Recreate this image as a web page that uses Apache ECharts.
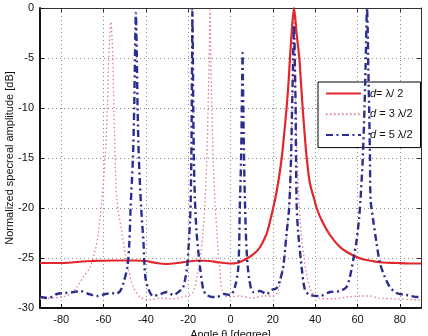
<!DOCTYPE html>
<html>
<head>
<meta charset="utf-8">
<script src="https://cdn.jsdelivr.net/npm/echarts@6/dist/echarts.min.js"></script>
<style>
  html, body { margin: 0; padding: 0; background: #fff; }
  #chart { width: 428px; height: 336px; }
</style>
</head>
<body>
<div id="chart"></div>
<script>
// d = lambda/2
let angleRed = [-90, -80, -75, -70, -65, -55, -45, -40, -35, -30, -25, -20, -15, -10, -5, 0, 3, 6, 9, 12, 14, 16, 17.5, 19.5, 21, 22.5, 24.2, 25.4, 26.5, 27.4, 28.1, 28.9, 30, 31.2, 32.5, 33.3, 34.1, 35, 36, 37.5, 39.8, 40.7, 43, 47, 51.7, 55, 59.6, 63, 67, 72, 78.4, 85, 90];
let ampRed = [-25.5, -25.5, -25.45, -25.35, -25.3, -25.25, -25.25, -25.3, -25.5, -25.6, -25.5, -25.35, -25.25, -25.3, -25.45, -25.55, -25.5, -25.25, -24.9, -24.4, -23.9, -23.1, -22.3, -20.6, -19.2, -17.5, -15, -12.5, -10, -7.5, -5, -2.5, 0, -2.5, -5, -7.5, -10, -12.5, -15, -17.5, -19.3, -20, -21.2, -22.7, -23.9, -24.4, -24.9, -25.15, -25.3, -25.45, -25.5, -25.55, -25.55];

// d = 3 lambda/2
let anglePink = [-90, -85, -80, -75.7, -72.5, -69.5, -66.3, -63.9, -62.4, -60.8, -59.2, -58.2, -57.5, -56.5, -55.6, -55.1, -54.5, -53.7, -51.3, -49.8, -48.2, -45.9, -42.7, -38, -33, -28, -23, -18, -15.5, -14.3, -13, -12, -11.2, -10.6, -10.1, -9.7, -9.3, -8.8, -8.2, -7.3, -6.4, -5.8, -5, -3.9, -1.5, 4, 10, 16, 20, 22.3, 24.5, 25.5, 26.7, 27.7, 28.5, 29.1, 29.6, 30, 30.4, 30.9, 31.5, 32.3, 33.4, 34.8, 35.8, 38.3, 42, 48, 55, 62, 66, 70, 80, 90];
let ampPink = [-29.1, -29.0, -28.9, -28.6, -27.9, -26.9, -25.9, -24.2, -22.5, -19.2, -15, -10, -5, -1.4, -5, -10, -15, -19.2, -22.5, -24.5, -26.2, -27.9, -28.9, -29.2, -29.0, -29.1, -28.9, -28.5, -26.5, -25, -22.5, -19.2, -15, -10, -5, -0.2, -5, -10, -15, -19.5, -22.5, -24.5, -26.2, -28.3, -28.9, -28.8, -29.0, -28.8, -28.8, -28.4, -26.5, -25, -22.5, -19.2, -15, -10, -5, -0.3, -5, -10, -15, -19.2, -22.5, -25, -26.5, -28.4, -29.0, -29.1, -28.9, -28.8, -28.8, -29.0, -29.1, -29.2];

// d = 5 lambda/2
let angleBlue = [-90, -86, -82, -78, -74, -71, -67, -63, -59, -56, -54.5, -52.1, -50.6, -48.7, -47.8, -47.2, -46.1, -45.5, -45.15, -44.9, -44.7, -44.5, -44.25, -43.9, -43.3, -42.2, -41.1, -40.3, -38.8, -36.5, -33, -30, -27, -24, -22.5, -21.5, -20.5, -19.9, -19.1, -18.8, -18.5, -18.3, -18.15, -18.05, -18, -17.9, -17.75, -17.6, -17.3, -16.8, -16, -14.4, -12.8, -11.2, -8.5, -6.5, -3, 0, 2.1, 3.7, 4.4, 5.0, 5.35, 5.55, 5.7, 5.85, 6.05, 6.4, 6.8, 7.6, 8.9, 10.8, 13.9, 17, 19.4, 21.8, 23.4, 24.9, 26.5, 27.7, 28.6, 29.1, 29.5, 29.8, 30, 30.2, 30.45, 30.75, 30.95, 31.3, 32, 33.6, 35.2, 37.5, 42.2, 47, 51.7, 54.8, 56.4, 58, 59.6, 60.8, 61.4, 62.5, 63.3, 63.8, 64.2, 64.5, 64.8, 65.1, 65.5, 65.9, 66.2, 67.4, 69, 70.6, 72.9, 75.3, 78.4, 83.2, 88.6, 90];
let ampBlue = [-28.9, -29.0, -28.6, -28.5, -28.4, -28.3, -28.6, -28.8, -28.6, -28.5, -28.6, -28.3, -27.5, -25.9, -23.5, -20, -15, -10, -5, -2, -0.5, -2, -5, -10, -15, -20, -23.5, -26.8, -28.1, -28.8, -28.6, -28.4, -28.7, -28.3, -28.0, -27.2, -25.9, -24.2, -21.2, -19.2, -15, -10, -5, -2, -0.2, -2, -5, -10, -15, -19.2, -22.5, -25.9, -28.2, -28.7, -28.9, -28.9, -28.6, -28.7, -27.9, -25.9, -20, -15, -10, -7, -4.5, -7, -10, -15, -19.2, -24.2, -27.2, -28.4, -28.3, -28.6, -28.2, -28.0, -27.2, -25.9, -22.5, -20, -15, -10, -6, -3, -1.7, -3, -6, -10, -15, -20, -22.5, -25.9, -28.2, -28.7, -28.8, -28.4, -28.3, -27.9, -26.9, -25.2, -23.2, -20.9, -19.2, -15, -10, -6, -2, 0, -2, -6, -10, -15, -19.2, -21.2, -23.5, -25.5, -26.9, -27.9, -28.5, -28.7, -28.9, -28.9];

let seriesNames = ['d= λ/ 2', 'd = 3 λ/2', 'd = 5 λ/2'];

let pairs = (xs, ys) => xs.map((x, i) => [x, ys[i]]);

let font = 'Liberation Sans, Arial, Helvetica, sans-serif';
let gridLine = { show: true, lineStyle: { color: '#8c8c8c', type: [1, 3], width: 1 } };

let chart = echarts.init(document.getElementById('chart'), null, { renderer: 'canvas' });
chart.setOption({
	animation: false,
	backgroundColor: '#fff',
	textStyle: { fontFamily: font },
	grid: { left: 40, right: 7, top: 8, bottom: 28, show: false, containLabel: false, outerBoundsMode: 'none' },
	legend: {
		orient: 'vertical',
		left: 318,
		top: 82,
		padding: [6, 8, 7, 7],
		itemWidth: 35,
		itemHeight: 14,
		itemGap: 9.5,
		backgroundColor: '#fff',
		borderColor: '#000',
		borderWidth: 1,
		borderRadius: 0,
		data: seriesNames,
		itemStyle: { opacity: 0 },
		formatter: name => '{i|d}{t|' + name.slice(1) + '}',
		textStyle: {
			fontFamily: font,
			fontSize: 11,
			color: '#111',
			align: 'left',
			padding: [0, 0, 0, 4],
			rich: {
				i: { fontFamily: font, fontSize: 11, fontStyle: 'italic', color: '#111', align: 'left' },
				t: { fontFamily: font, fontSize: 11, color: '#111', align: 'left' }
			}
		}
	},
	xAxis: [{
		type: 'value',
		min: -90,
		max: 90,
		splitNumber: 9,
		position: 'bottom',
		name: 'Angle θ [degree]',
		nameLocation: 'middle',
		nameGap: 21,
		nameTextStyle: { fontFamily: font, fontSize: 11, color: '#111' },
		axisLine: { show: true, onZero: false, lineStyle: { color: '#111', width: 2 } },
		axisTick: { show: true, inside: true, length: 4, lineStyle: { color: '#111' } },
		axisLabel: { fontFamily: font, fontSize: 11, color: '#111', margin: 6, showMinLabel: false, showMaxLabel: false },
		splitLine: gridLine
	}, {
		type: 'value',
		min: -90,
		max: 90,
		splitNumber: 9,
		position: 'top',
		axisLine: { show: true, onZero: false, lineStyle: { color: '#333', width: 1 } },
		axisTick: { show: true, inside: true, length: 4, lineStyle: { color: '#333' } },
		axisLabel: { show: false },
		splitLine: { show: false }
	}],
	yAxis: [{
		type: 'value',
		min: -30,
		max: 0,
		interval: 5,
		position: 'left',
		name: 'Normalized specreal amplitude [dB]',
		nameLocation: 'middle',
		nameGap: 25,
		nameMoveOverlap: false,
		nameTextStyle: { fontFamily: font, fontSize: 11, color: '#111' },
		axisLine: { show: true, onZero: false, lineStyle: { color: '#111', width: 2 } },
		axisTick: { show: true, inside: true, length: 4, lineStyle: { color: '#111' } },
		axisLabel: { fontFamily: font, fontSize: 11, color: '#111', margin: 6 },
		splitLine: gridLine
	}, {
		type: 'value',
		min: -30,
		max: 0,
		interval: 5,
		position: 'right',
		axisLine: { show: true, onZero: false, lineStyle: { color: '#333', width: 1 } },
		axisTick: { show: true, inside: true, length: 4, lineStyle: { color: '#333' } },
		axisLabel: { show: false },
		splitLine: { show: false }
	}],
	series: [{
		name: seriesNames[0],
		type: 'line',
		data: pairs(angleRed, ampRed),
		showSymbol: false,
		symbol: 'none',
		smooth: 0.3,
		z: 3,
		lineStyle: { color: '#e3262c', width: 2.2 },
		itemStyle: { color: '#e3262c' }
	}, {
		name: seriesNames[1],
		type: 'line',
		data: pairs(anglePink, ampPink),
		showSymbol: false,
		symbol: 'none',
		smooth: 0.3,
		z: 2,
		lineStyle: { color: '#e5799b', width: 1.3, type: [1.5, 2.5] },
		itemStyle: { color: '#e5799b' }
	}, {
		name: seriesNames[2],
		type: 'line',
		data: pairs(angleBlue, ampBlue),
		showSymbol: false,
		symbol: 'none',
		smooth: 0.3,
		z: 4,
		lineStyle: { color: '#2b2e8c', width: 2.4, type: [7, 3.5, 2, 3.5] },
		itemStyle: { color: '#2b2e8c' }
	}]
});
</script>
</body>
</html>
